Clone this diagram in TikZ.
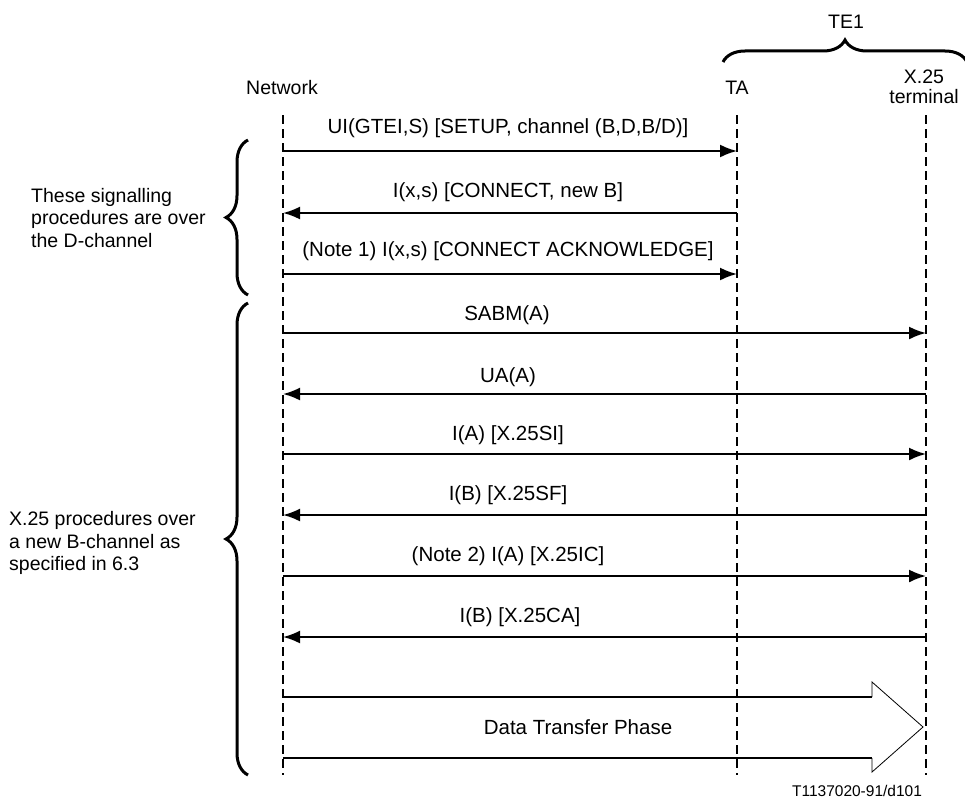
\documentclass[tikz,border=0pt]{standalone}
\usepackage{fontspec}
\setmainfont{Liberation Sans}
\usetikzlibrary{arrows.meta,decorations.pathreplacing}

\begin{document}
\begin{tikzpicture}[x=1pt, y=-1pt,
    lbl/.style={font=\fontsize{19.5}{22.5}\selectfont, inner sep=1pt},
    mlbl/.style={font=\fontsize{20.5}{23}\selectfont, inner sep=1pt},
    life/.style={line width=1.6pt, dash pattern=on 9pt off 5pt},
    msg/.style={-{Latex[length=17pt,width=13pt]}, line width=2pt},
    bigbrace/.style={decorate, decoration={brace, amplitude=#1}, line width=3pt}
]
\useasboundingbox (0,0) rectangle (965,808);

% Heads
\node[lbl] (net) at (282,88) {Network};
\node[lbl] (ta) at (737,88) {TA};
\node[lbl, align=center, font=\fontsize{19.5}{20}\selectfont] (xterm) at (924,87) {X.25\\terminal};
\node[lbl] (te) at (846,22) {TE1};
\draw[bigbrace=22pt] (723,62) -- (967,62);

% Lifelines
\coordinate (nT) at (283,115);
\coordinate (nB) at (283,775);
\coordinate (tT) at (737,115);
\coordinate (tB) at (737,775);
\coordinate (xT) at (926,115);
\coordinate (xB) at (926,775);
\draw[life] (nT) -- (nB);
\draw[life] (tT) -- (tB);
\draw[life] (xT) -- (xB);

% D-channel messages
\coordinate (m1) at (283,151);
\coordinate (m2) at (283,213);
\coordinate (m3) at (283,274);
\node[mlbl] (l1) at (508,128) {UI(GTEI,S) [SETUP, channel (B,D,B/D)]};
\node[mlbl] (l2) at (508,192) {I(x,s) [CONNECT, new B]};
\node[mlbl] (l3) at (508,251) {(Note 1) I(x,s) [CONNECT ACKNOWLEDGE]};
\draw[msg] (m1) -- (tT |- m1);
\draw[msg] (tT |- m2) -- (m2);
\draw[msg] (m3) -- (tT |- m3);

% B-channel messages
\coordinate (m4) at (283,333);
\coordinate (m5) at (283,394);
\coordinate (m6) at (283,454);
\coordinate (m7) at (283,515);
\coordinate (m8) at (283,576);
\coordinate (m9) at (283,637);
\node[mlbl] (l4) at (507,315) {SABM(A)};
\node[mlbl] (l5) at (508,377) {UA(A)};
\node[mlbl] (l6) at (508,435) {I(A) [X.25SI]};
\node[mlbl] (l7) at (508,495) {I(B) [X.25SF]};
\node[mlbl] (l8) at (508,556) {(Note 2) I(A) [X.25IC]};
\node[mlbl] (l9) at (520,617) {I(B) [X.25CA]};
\draw[msg] (m4) -- (xT |- m4);
\draw[msg] (xT |- m5) -- (m5);
\draw[msg] (m6) -- (xT |- m6);
\draw[msg] (xT |- m7) -- (m7);
\draw[msg] (m8) -- (xT |- m8);
\draw[msg] (xT |- m9) -- (m9);

% Data transfer
\coordinate (d1) at (283,697);
\coordinate (d2) at (283,758);
\coordinate (h1) at (872,697);
\coordinate (h2) at (872,758);
\coordinate (htip) at (923,727);
\draw[line width=2.5pt] (d1) -- (h1);
\draw[line width=2.5pt] (d2) -- (h2);
\draw[line width=0.8pt] (h1) -- (872,682) -- (htip) -- (872,772) -- (h2);
\node[mlbl] (dtp) at (578,727) {Data Transfer Phase};

% Braces
\draw[bigbrace=22pt] (248,295) -- (248,140);
\draw[bigbrace=22pt] (248,775) -- (248,303);
\node[lbl, align=left, anchor=west] (dnote) at (30,218) {These signalling\\procedures are over\\the D-channel};
\node[lbl, align=left, anchor=west] (bnote) at (8,543) {X.25 procedures over\\a new B-channel as\\specified in 6.3};

\node[lbl, font=\fontsize{15.5}{18}\selectfont] (fig) at (857,791) {T1137020-91/d101};
\end{tikzpicture}
\end{document}
